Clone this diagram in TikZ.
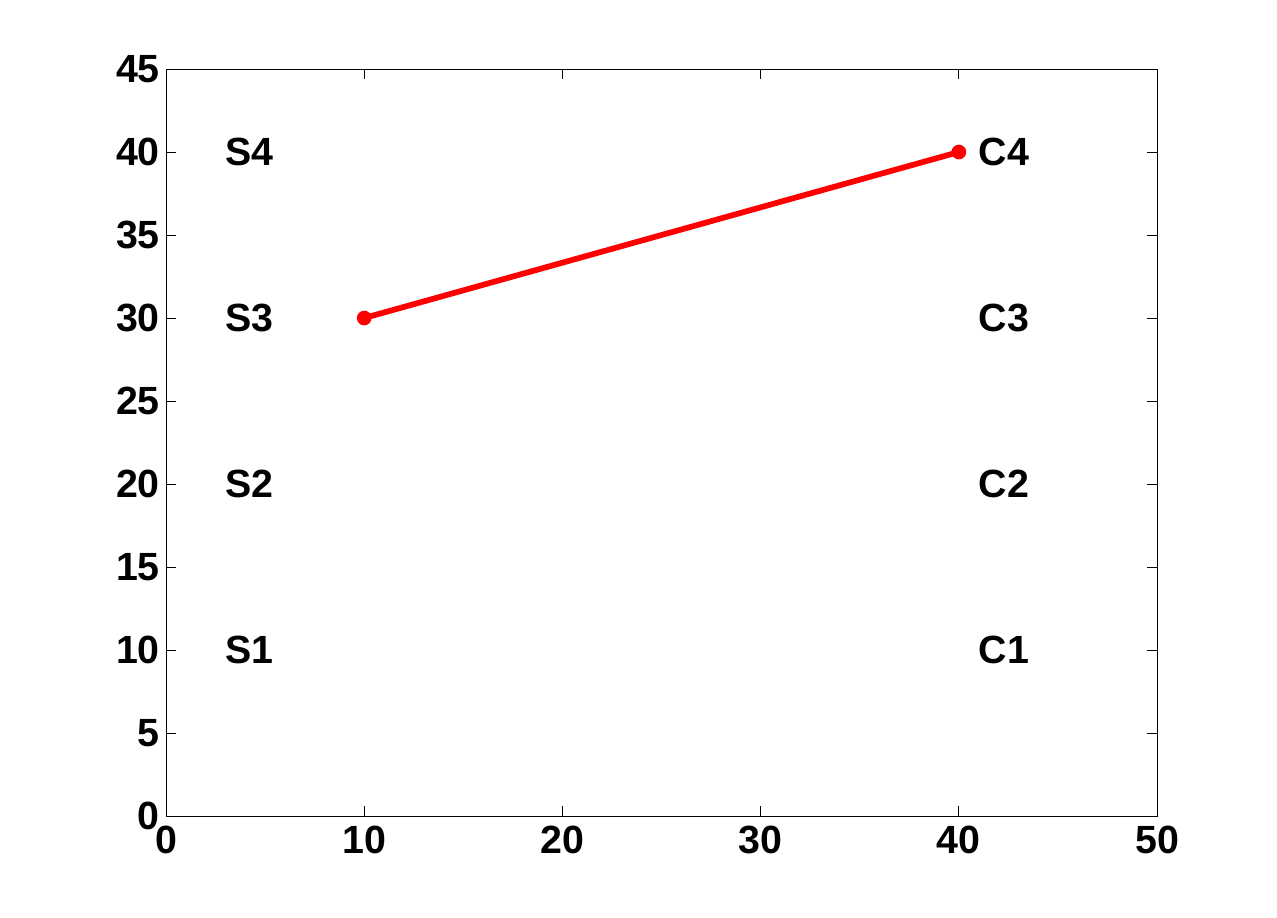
\documentclass[tikz,border=0pt]{standalone}
\usepackage{fontspec}
\setmainfont{Liberation Sans}
\begin{document}
\begin{tikzpicture}[x=14.865pt,y=12.45pt,
  lbl/.style={font=\fontsize{29.5}{30}\selectfont\bfseries,inner sep=0pt},
  pt/.style={circle,fill=red,inner sep=0pt,minimum size=11pt}]
\pgfmathsetmacro{\xmax}{50}
\pgfmathsetmacro{\ymax}{45}
\pgfmathsetmacro{\tickx}{0.5045}
\pgfmathsetmacro{\ticky}{0.602}
\useasboundingbox[fill=white] (-8.375,-6.084) rectangle (56.05,49.157);
\draw[line width=0.75pt] (0,0) rectangle (\xmax,\ymax);
\foreach \x in {0,10,...,50} {
  \draw[line width=0.75pt] (\x,0) -- ++(0,\ticky) (\x,\ymax) -- ++(0,-\ticky);
  \node[lbl,anchor=north] (xl\x) at (\x,-0.6) {\x};
}
\foreach \y in {0,5,...,45} {
  \draw[line width=0.75pt] (0,\y) -- ++(\tickx,0) (\xmax,\y) -- ++(-\tickx,0);
  \node[lbl,anchor=east] (yl\y) at (-0.3,\y) {\y};
}
\foreach \i in {1,...,4} {
  \node[lbl,anchor=west] (s\i) at (3,10*\i) {S\i};
  \node[lbl,anchor=west] (c\i) at (41,10*\i) {C\i};
}
\node[pt] (a) at (10,30) {};
\node[pt] (b) at (40,40) {};
\draw[red,line width=4.3pt] (a.center) -- (b.center);
\end{tikzpicture}
\end{document}
